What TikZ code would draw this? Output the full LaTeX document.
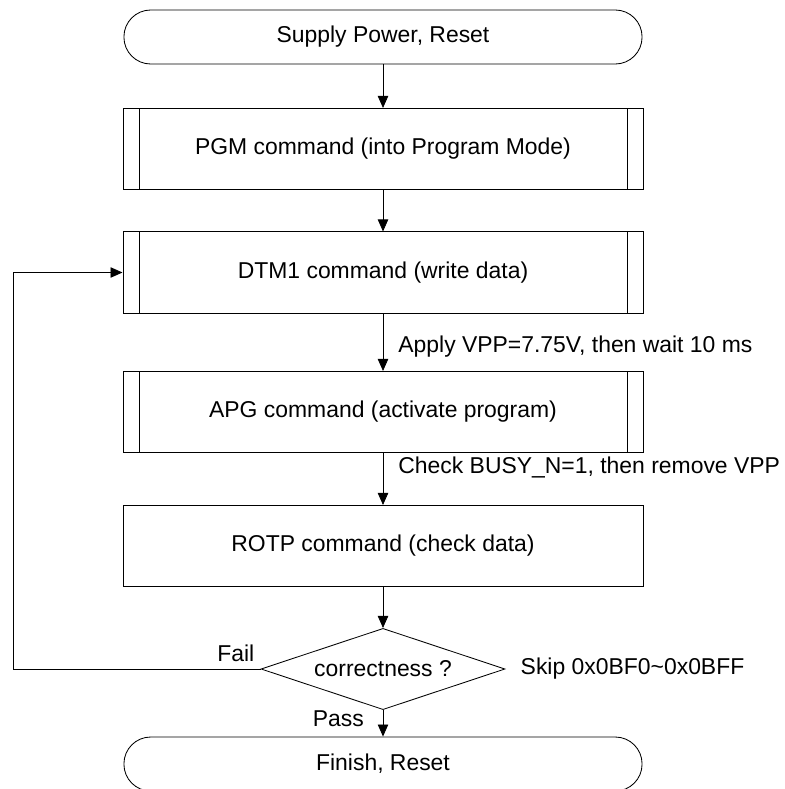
\documentclass[tikz,border=0pt]{standalone}
\usepackage{fontspec}
\setmainfont{Liberation Sans}
\usetikzlibrary{shapes.geometric,arrows.meta}

\tikzset{
  flowline/.style={line width=0.6pt},
  arr/.style={flowline, -{Triangle[length=0.3cm,width=0.26cm]}},
  terminal/.style={draw, flowline, rounded corners=0.67cm, minimum width=12.95cm, minimum height=1.35cm},
  plainbox/.style={draw, flowline, minimum width=13cm, minimum height=2.03cm},
  procbox/.style={plainbox, path picture={
      \draw[flowline] ([xshift=0.4cm]path picture bounding box.north west) -- ([xshift=0.4cm]path picture bounding box.south west);
      \draw[flowline] ([xshift=-0.4cm]path picture bounding box.north east) -- ([xshift=-0.4cm]path picture bounding box.south east);}},
  decision/.style={draw, flowline, diamond, aspect=3, inner sep=0pt, minimum width=6.1cm, minimum height=2.03cm},
  note/.style={inner sep=0pt},
}

\begin{document}
\begin{tikzpicture}[x=0.025cm, y=-0.025cm, font=\fontsize{16.3}{19}\selectfont]
        \useasboundingbox (0,0) rectangle (784,789);

        \node[terminal] (start) at (383,37) {Supply Power, Reset};
        \node[procbox] (pgm) at (383,149) {PGM command (into Program Mode)};
        \node[procbox] (dtm) at (383,272.5) {DTM1 command (write data)};
        \node[procbox] (apg) at (383,412) {APG command (activate program)};
        \node[plainbox] (rotp) at (383,546) {ROTP command (check data)};
        \node[decision] (check) at (383,669) {correctness ?};
        \node[terminal] (finish) at (383,764) {Finish, Reset};

        \draw[arr] (start) -- (pgm);
        \draw[arr] (pgm) -- (dtm);
        \draw[arr] (dtm) -- node[note, pos=0.58, anchor=west, xshift=0.375cm] (applylbl) {Apply VPP=7.75V, then wait 10 ms} (apg);
        \draw[arr] (apg) -- node[note, pos=0.28, anchor=west, xshift=0.375cm] (busylbl) {Check BUSY\_N=1, then remove VPP} (rotp);
        \draw[arr] (rotp) -- (check);
        \draw[arr] (check) -- (finish);

        % Fail goes back to DTM1
        \coordinate (loop) at (13,669);
        \draw[arr] (check.west) -- (loop) |- (dtm.west);

        \node[note, anchor=south east, xshift=-0.15cm, yshift=0.18cm] (faillbl) at (check.west) {Fail};
        \node[note, anchor=north east, xshift=-0.475cm] (passlbl) at (check.south) {Pass};
        \node[note, anchor=west, xshift=0.375cm] (skiplbl) at (check.east) {Skip 0x0BF0\textasciitilde 0x0BFF};
    \end{tikzpicture}
\end{document}
